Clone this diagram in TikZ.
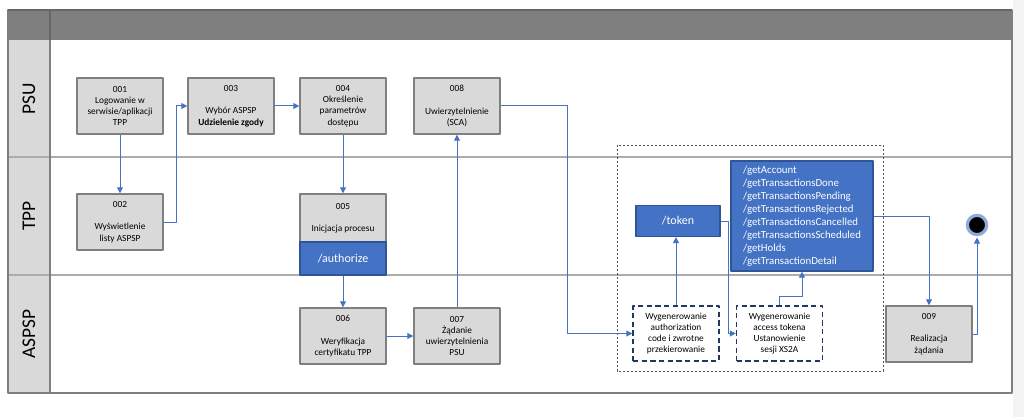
\documentclass[tikz,border=0pt]{standalone}
\usepackage{fontspec}
\setmainfont{Carlito}
\usetikzlibrary{arrows.meta}
\definecolor{hdrgray}{HTML}{7F7F7F}
\definecolor{lanegray}{HTML}{D9D9D9}
\definecolor{edgegray}{HTML}{7F7F7F}
\definecolor{apiblue}{HTML}{4472C4}
\definecolor{apiedge}{HTML}{2F5597}
\definecolor{dashblue}{HTML}{203864}
\definecolor{dotblue}{HTML}{44546A}
\definecolor{ringblue}{HTML}{8FAADC}
\definecolor{sidegray}{HTML}{F4F4F4}
\begin{document}
\begin{tikzpicture}[x=.75pt, y=-.75pt, font=\fontsize{7}{8.4}\selectfont, line join=round, >={Triangle[length=4.5pt,width=4.5pt]},
	proc/.style={draw=edgegray, line width=1.1pt, fill=lanegray, minimum width=64.5pt, minimum height=42pt, align=center, inner sep=1pt},
	api/.style={draw=apiedge, line width=.9pt, fill=apiblue, text=white, align=center, inner sep=1pt, font=\fontsize{9}{10}\selectfont},
	gen/.style={draw=dashblue, line width=1.1pt, dash pattern=on 4pt off 2.5pt, fill=white, minimum width=64.5pt, minimum height=41.25pt, align=center, inner sep=1pt},
	flow/.style={->, apiblue, line width=.75pt},
	lane/.style={rotate=90, font=\fontsize{14.5}{16}\selectfont}]
	\useasboundingbox (0,0) rectangle (1024,417);
	\fill[sidegray] (1013,0) rectangle (1024,417);
	\fill[lanegray] (8,40) rectangle (50,393);
	\fill[hdrgray] (8,10) rectangle (1012,40);
	\draw[gray!65, line width=.9pt] (8,157) -- (1012,157) (8,275) -- (1012,275);
	\draw[edgegray, line width=.8pt] (8,10) rectangle (1012,393) (50,10) -- (50,393);
	\draw[black!60, line width=1pt] (8,10) -- (1012,10) (50,10) -- (50,40);
	\node[lane] (psu) at (29,99) {PSU};
	\node[lane] (tpp) at (29,216) {TPP};
	\node[lane] (aspsp) at (29,334) {ASPSP};
	\node[proc] (n001) at (120,106) {001\\Logowanie w\\serwisie/aplikacji\\TPP};
	\node[proc] (n003) at (231,106) {003\\[8.4pt]Wybór ASPSP\\\textbf{Udzielenie zgody}};
	\node[proc] (n004) at (343,106) {004\\Określenie\\parametrów\\dostępu};
	\node[proc] (n008) at (457,106) {008\\[8.4pt]Uwierzytelnienie\\(SCA)};
	\node[proc] (n002) at (120,222) {002\\[8.4pt]Wyświetlenie\\listy ASPSP};
	\node[proc, minimum height=36pt] (n005) at (343,218) {005\\[8.4pt]Inicjacja procesu};
	\node[api, minimum width=64.5pt, minimum height=24.75pt] (auth) at (343,258.5) {/authorize};
	\node[proc] (n006) at (343,336) {006\\[8.4pt]Weryfikacja\\certyfikatu TPP};
	\node[proc] (n007) at (457,336) {007\\Żądanie\\uwierzytelnienia\\PSU};
	\node[proc] (n009) at (929,334) {009\\[8.4pt]Realizacja\\żądania};
	\draw[dotblue, dash pattern=on 1.6pt off 1.4pt, line width=.7pt] (617,145) rectangle (883,371);
	\node[api, minimum width=63pt, minimum height=23.25pt] (token) at (678,221) {/token};
	\node[api, minimum width=106.5pt, minimum height=82.5pt, align=left, font=\fontsize{8.1}{9.75}\selectfont] (getapi) at (802,216)
		{/getAccount\\/getTransactionsDone\\/getTransactionsPending\\/getTransactionsRejected\\/getTransactionsCancelled\\/getTransactionsScheduled\\/getHolds\\/getTransactionDetail};
	\node[gen] (gen1) at (676,333.5) {Wygenerowanie\\authorization\\code i zwrotne\\przekierowanie};
	\node[gen] (gen2) at (779.5,333.5) {Wygenerowanie\\access tokena\\Ustanowienie\\sesji XS2A};
	\node[circle, fill=black, draw=ringblue, line width=2.4pt, minimum size=14.5pt, inner sep=0pt] (done) at (977,225) {};
	\draw[flow] (n001) -- (n002);
	\draw[flow] (n002.east) -- ++(13,0) |- (n003.west);
	\draw[flow] (n003) -- (n004);
	\draw[flow] (n004) -- (n005);
	\draw[flow] (auth) -- (n006);
	\draw[flow] (n006) -- (n007);
	\draw[flow] (n007) -- (n008);
	\draw[flow] (n008.east) -- ++(67,0) |- (gen1.west);
	\draw[flow] (gen1.north) -- (gen1.north |- token.south);
	\draw[flow] (token.east) -- ++(8,0) |- (gen2.west);
	\draw[flow] (gen2.north) -- ++(0,-9) -| (getapi.south);
	\draw[flow] (getapi.east) -| (n009.north);
	\draw[flow, shorten >=1pt] (n009.east) -| (done.south);
\end{tikzpicture}
\end{document}
